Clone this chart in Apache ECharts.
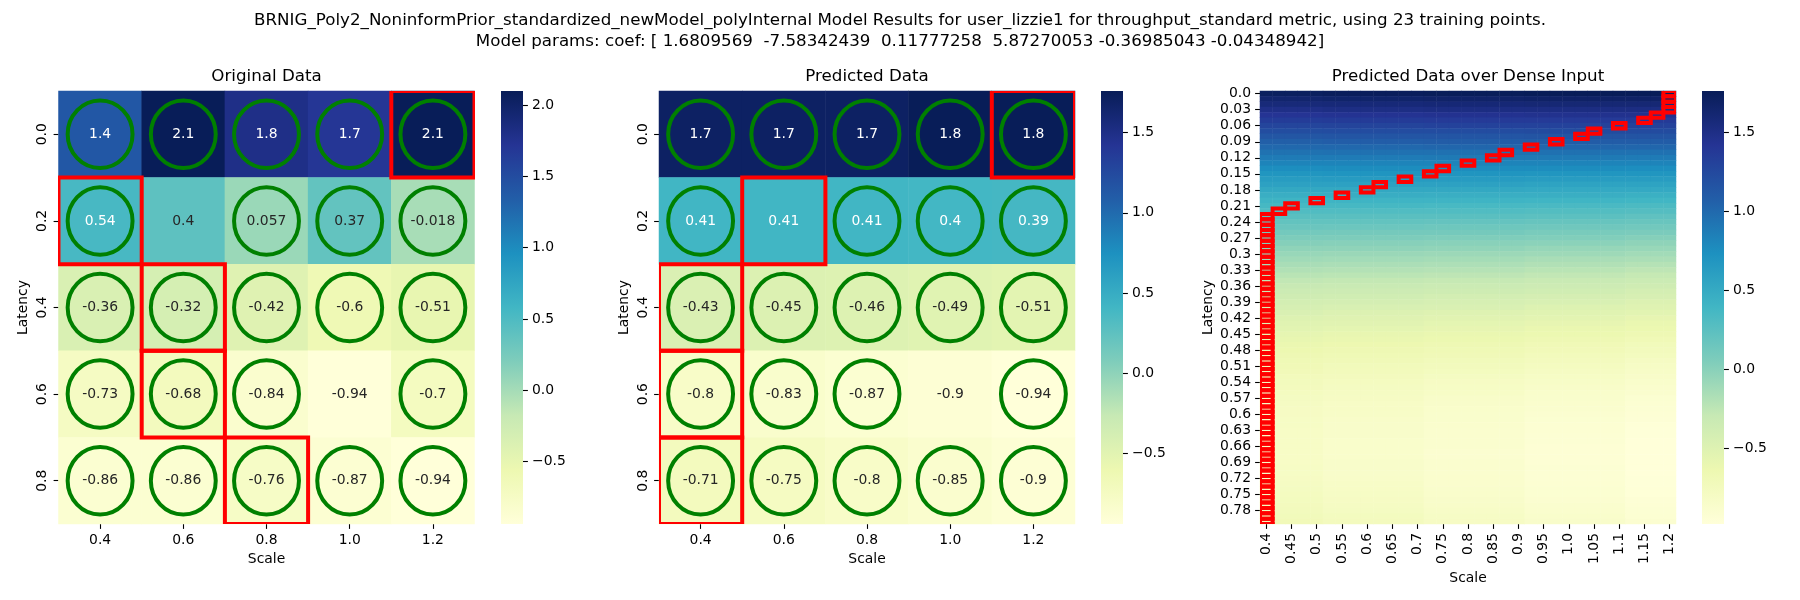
<!DOCTYPE html>
<html>
<head>
<meta charset="utf-8">
<script src="https://cdn.jsdelivr.net/npm/echarts@6/dist/echarts.min.js"></script>
<style>
html,body{margin:0;padding:0;background:#fff}
#chart{width:1800px;height:600px}
</style>
</head>
<body>
<div id="chart"></div>
<script>
// coarse grid
const scaleLabels = ['0.4','0.6','0.8','1.0','1.2'];
const latencyLabels = ['0.0','0.2','0.4','0.6','0.8'];

const originalValues = [
  [1.4, 2.1, 1.8, 1.7, 2.1],
  [0.54, 0.4, 0.057, 0.37, -0.018],
  [-0.36, -0.32, -0.42, -0.6, -0.51],
  [-0.73, -0.68, -0.84, -0.94, -0.7],
  [-0.86, -0.86, -0.76, -0.87, -0.94]
];
const predictedValues = [
  [1.7, 1.7, 1.7, 1.8, 1.8],
  [0.41, 0.41, 0.41, 0.4, 0.39],
  [-0.43, -0.45, -0.46, -0.49, -0.51],
  [-0.8, -0.83, -0.87, -0.9, -0.94],
  [-0.71, -0.75, -0.8, -0.85, -0.9]
];
// 1 = training point (green circle)
const trainMask = [
  [1,1,1,1,1],
  [1,0,1,1,1],
  [1,1,1,1,1],
  [1,1,1,0,1],
  [1,1,1,1,1]
];
// scale of the row maximum (red box), per latency row
const originalRowMax = ['1.2','0.4','0.6','0.6','0.8'];
const predictedRowMax = ['1.2','0.6','0.4','0.4','0.4'];

const originalRange = [-0.94, 2.1];
const predictedRange = [-0.94, 1.76];
const denseRange = [-0.98, 1.76];
const colorbarTicks1 = [-0.5, 0, 0.5, 1, 1.5, 2];
const colorbarTicks2 = [-0.5, 0, 0.5, 1, 1.5];

// dense grid
const denseScaleLabels = ['0.4','0.425','0.45','0.475','0.5','0.525','0.55','0.575','0.6','0.625','0.65','0.675','0.7','0.725','0.75','0.775','0.8','0.825','0.85','0.875','0.9','0.925','0.95','0.975','1.0','1.025','1.05','1.075','1.1','1.125','1.15','1.175','1.2'];
const denseLatencyLabels = ['0.0','0.01','0.02','0.03','0.04','0.05','0.06','0.07','0.08','0.09','0.1','0.11','0.12','0.13','0.14','0.15','0.16','0.17','0.18','0.19','0.2','0.21','0.22','0.23','0.24','0.25','0.26','0.27','0.28','0.29','0.3','0.31','0.32','0.33','0.34','0.35','0.36','0.37','0.38','0.39','0.4','0.41','0.42','0.43','0.44','0.45','0.46','0.47','0.48','0.49','0.5','0.51','0.52','0.53','0.54','0.55','0.56','0.57','0.58','0.59','0.6','0.61','0.62','0.63','0.64','0.65','0.66','0.67','0.68','0.69','0.7','0.71','0.72','0.73','0.74','0.75','0.76','0.77','0.78','0.79','0.8'];
// values read at these scales, one row per latency
const denseAnchorScales = [0.4, 0.6, 0.8, 1.0, 1.2];
const denseValues = [
  [1.72,1.74,1.75,1.76,1.76],[1.64,1.66,1.67,1.68,1.68],[1.57,1.58,1.59,1.60,1.60],[1.49,1.51,1.52,1.52,1.52],
  [1.42,1.43,1.44,1.45,1.45],[1.35,1.36,1.37,1.37,1.37],[1.28,1.29,1.30,1.30,1.30],[1.21,1.22,1.22,1.23,1.23],
  [1.14,1.15,1.15,1.16,1.16],[1.07,1.08,1.09,1.09,1.09],[1.01,1.01,1.02,1.02,1.02],[0.94,0.95,0.95,0.95,0.95],
  [0.88,0.88,0.89,0.89,0.88],[0.82,0.82,0.82,0.82,0.82],[0.75,0.76,0.76,0.76,0.75],[0.69,0.70,0.70,0.69,0.69],
  [0.63,0.64,0.64,0.63,0.63],[0.58,0.58,0.58,0.57,0.57],[0.52,0.52,0.52,0.51,0.51],[0.46,0.47,0.46,0.46,0.45],
  [0.41,0.41,0.41,0.40,0.39],[0.36,0.36,0.35,0.34,0.33],[0.30,0.30,0.30,0.29,0.28],[0.25,0.25,0.25,0.24,0.22],
  [0.20,0.20,0.19,0.18,0.17],[0.16,0.15,0.14,0.13,0.12],[0.11,0.10,0.10,0.08,0.07],[0.06,0.06,0.05,0.04,0.02],
  [0.02,0.01,0.00,-0.01,-0.03],[-0.03,-0.03,-0.04,-0.06,-0.07],[-0.07,-0.08,-0.09,-0.10,-0.12],[-0.11,-0.12,-0.13,-0.15,-0.16],
  [-0.15,-0.16,-0.17,-0.19,-0.21],[-0.19,-0.20,-0.21,-0.23,-0.25],[-0.23,-0.24,-0.25,-0.27,-0.29],[-0.27,-0.28,-0.29,-0.31,-0.33],
  [-0.30,-0.31,-0.33,-0.35,-0.37],[-0.34,-0.35,-0.36,-0.38,-0.41],[-0.37,-0.38,-0.40,-0.42,-0.44],[-0.40,-0.41,-0.43,-0.45,-0.48],
  [-0.43,-0.45,-0.46,-0.49,-0.51],[-0.46,-0.48,-0.50,-0.52,-0.54],[-0.49,-0.51,-0.53,-0.55,-0.58],[-0.52,-0.53,-0.56,-0.58,-0.61],
  [-0.54,-0.56,-0.58,-0.61,-0.63],[-0.57,-0.59,-0.61,-0.63,-0.66],[-0.59,-0.61,-0.63,-0.66,-0.69],[-0.62,-0.64,-0.66,-0.69,-0.72],
  [-0.64,-0.66,-0.68,-0.71,-0.74],[-0.66,-0.68,-0.70,-0.73,-0.76],[-0.68,-0.70,-0.72,-0.75,-0.79],[-0.69,-0.72,-0.74,-0.77,-0.81],
  [-0.71,-0.73,-0.76,-0.79,-0.83],[-0.73,-0.75,-0.78,-0.81,-0.84],[-0.74,-0.77,-0.80,-0.83,-0.86],[-0.75,-0.78,-0.81,-0.84,-0.88],
  [-0.77,-0.79,-0.82,-0.86,-0.89],[-0.78,-0.80,-0.84,-0.87,-0.91],[-0.79,-0.82,-0.85,-0.88,-0.92],[-0.80,-0.82,-0.86,-0.89,-0.93],
  [-0.80,-0.83,-0.87,-0.90,-0.94],[-0.81,-0.84,-0.87,-0.91,-0.95],[-0.81,-0.85,-0.88,-0.92,-0.96],[-0.82,-0.85,-0.89,-0.92,-0.97],
  [-0.82,-0.85,-0.89,-0.93,-0.97],[-0.82,-0.86,-0.89,-0.93,-0.98],[-0.82,-0.86,-0.89,-0.94,-0.98],[-0.82,-0.86,-0.90,-0.94,-0.98],
  [-0.82,-0.86,-0.90,-0.94,-0.98],[-0.82,-0.85,-0.89,-0.94,-0.98],[-0.81,-0.85,-0.89,-0.93,-0.98],[-0.81,-0.85,-0.89,-0.93,-0.98],
  [-0.80,-0.84,-0.88,-0.93,-0.97],[-0.79,-0.83,-0.88,-0.92,-0.97],[-0.78,-0.82,-0.87,-0.91,-0.96],[-0.77,-0.81,-0.86,-0.91,-0.96],
  [-0.76,-0.80,-0.85,-0.90,-0.95],[-0.75,-0.79,-0.84,-0.89,-0.94],[-0.74,-0.78,-0.83,-0.88,-0.93],[-0.72,-0.76,-0.81,-0.86,-0.92],
  [-0.71,-0.75,-0.80,-0.85,-0.90]
];
// scale of the row maximum in the dense grid, per latency row
const denseRowMax = ['1.2','1.2','1.2','1.2','1.175','1.15','1.1','1.05','1.025','0.975','0.925','0.875','0.85','0.8','0.75','0.725','0.675','0.625','0.6','0.55','0.5','0.45','0.425',
  '0.4','0.4','0.4','0.4','0.4','0.4','0.4','0.4','0.4','0.4','0.4','0.4','0.4','0.4','0.4','0.4','0.4','0.4','0.4','0.4','0.4','0.4','0.4','0.4','0.4','0.4',
  '0.4','0.4','0.4','0.4','0.4','0.4','0.4','0.4','0.4','0.4','0.4','0.4','0.4','0.4','0.4','0.4','0.4','0.4','0.4','0.4','0.4','0.4','0.4','0.4','0.4','0.4',
  '0.4','0.4','0.4','0.4','0.4','0.4','0.4'];

const titleText = 'BRNIG_Poly2_NoninformPrior_standardized_newModel_polyInternal Model Results for user_lizzie1 for throughput_standard metric, using 23 training points.\nModel params: coef: [ 1.6809569  -7.58342439  0.11777258  5.87270053 -0.36985043 -0.04348942]';

const YLGNBU = ['#ffffd9','#edf8b1','#c7e9b4','#7fcdbb','#41b6c4','#1d91c0','#225ea8','#253494','#081d58'];
const FONT = 'DejaVu Sans';
const FS = 13.9;

function hexRgb(h){ return [1,3,5].map(i=>parseInt(h.substr(i,2),16)); }
// annotation colour like seaborn: dark text on light cells
function textColor(v, range){
  let t=(v-range[0])/(range[1]-range[0]);
  t=Math.max(0,Math.min(1,t))*(YLGNBU.length-1);
  const i=Math.min(Math.floor(t),YLGNBU.length-2), f=t-i;
  const a=hexRgb(YLGNBU[i]), b=hexRgb(YLGNBU[i+1]);
  const lin=c=>{c=c/255;return c<=0.03928?c/12.92:Math.pow((c+0.055)/1.055,2.4);};
  const rgb=a.map((x,k)=>x+(b[k]-x)*f);
  const lum=0.2126*lin(rgb[0])+0.7152*lin(rgb[1])+0.0722*lin(rgb[2]);
  return lum>0.408?'#262626':'#ffffff';
}

function cellData(values, range){
  const out=[];
  values.forEach((row,i)=>row.forEach((v,j)=>{
    out.push({value:[j,i,v],label:{color:textColor(v,range)}});
  }));
  return out;
}
function circleData(mask){
  const out=[];
  mask.forEach((row,i)=>row.forEach((m,j)=>{ if(m) out.push([j,i]); }));
  return out;
}
function boxData(rowMax, labels){
  return rowMax.map((s,i)=>[labels.indexOf(s),i]);
}
function denseData(){
  const out=[];
  denseLatencyLabels.forEach((lat,i)=>{
    denseScaleLabels.forEach((sl,j)=>{
      const s=parseFloat(sl);
      let best=0;
      denseAnchorScales.forEach((a,k)=>{ if(Math.abs(s-a)<Math.abs(s-denseAnchorScales[best])-1e-9) best=k; });
      out.push([j,i,denseValues[i][best]]);
    });
  });
  return out;
}

const tickStyle={show:true,alignWithLabel:true,length:4.9,lineStyle:{color:'#000',width:1.1}};
const nameStyle={color:'#000',fontSize:FS,fontFamily:FONT};

function heatXAxis(gi, labels, extraLabel, tickInterval, gap){
  return {type:'category',gridIndex:gi,data:labels,position:'bottom',
    axisLine:{show:false},
    axisTick:Object.assign({interval:tickInterval},tickStyle),
    axisLabel:Object.assign({color:'#000',fontSize:FS,fontFamily:FONT,margin:9,interval:tickInterval},extraLabel),
    splitLine:{show:false},
    name:'Scale',nameLocation:'middle',nameGap:gap,nameTextStyle:nameStyle};
}
function heatYAxis(gi, labels, extraLabel, tickInterval, gap){
  return {type:'category',gridIndex:gi,data:labels,inverse:true,position:'left',
    axisLine:{show:false},
    axisTick:Object.assign({interval:tickInterval},tickStyle),
    axisLabel:Object.assign({color:'#000',fontSize:FS,fontFamily:FONT,margin:9,interval:tickInterval},extraLabel),
    splitLine:{show:false},
    name:'Latency',nameLocation:'middle',nameRotate:90,nameGap:gap,nameTextStyle:nameStyle};
}
function barXAxis(gi){
  return {type:'category',gridIndex:gi,data:['c'],show:false};
}
function barYAxis(gi, range, ticks){
  return {type:'value',gridIndex:gi,min:range[0],max:range[1],position:'right',
    axisLine:{show:false},splitLine:{show:false},
    axisTick:{show:true,length:4.9,customValues:ticks,lineStyle:{color:'#000',width:1.1}},
    axisLabel:{show:true,customValues:ticks,margin:9,color:'#000',fontSize:FS,fontFamily:FONT,
      formatter:v=>(v<0?'\u2212':'')+Math.abs(v).toFixed(1)}};
}

function ellipseItem(params, api){
  const c=api.coord([api.value(0),api.value(1)]);
  const s=api.size([1,1]);
  return {type:'ellipse',shape:{cx:c[0],cy:c[1],rx:s[0]*0.39,ry:s[1]*0.39},
    style:{fill:'none',stroke:'#008000',lineWidth:4}};
}
function boxItem(lw){
  return function(params, api){
    const c=api.coord([api.value(0),api.value(1)]);
    const s=api.size([1,1]);
    return {type:'rect',shape:{x:c[0]-s[0]/2,y:c[1]-s[1]/2,width:s[0],height:s[1]},
      style:{fill:'none',stroke:'#ff0000',lineWidth:lw}};
  };
}
function colorbarItem(params, api){
  const top=api.coord([0,api.value(2)]);
  const bot=api.coord([0,api.value(1)]);
  const w=api.size([1,0])[0];
  const stops=YLGNBU.map((c,i)=>({offset:i/(YLGNBU.length-1),color:c}));
  return {type:'rect',shape:{x:top[0]-w/2,y:top[1],width:w,height:bot[1]-top[1]},
    style:{fill:new echarts.graphic.LinearGradient(0,1,0,0,stops)}};
}

const panelLeft=[58.5,659,1260];
const panelW=416, panelTop=91, panelH=433;
const barLeft=[501,1101,1702], barW=22;

const chart=echarts.init(document.getElementById('chart'),null,{renderer:'canvas'});
chart.setOption({
  animation:false,
  backgroundColor:'#ffffff',
  title:[
    {text:titleText,left:900,top:10,textAlign:'center',padding:0,
      textStyle:{fontSize:16.7,fontWeight:'normal',color:'#000',fontFamily:FONT,lineHeight:21}},
    {text:'Original Data',left:panelLeft[0]+panelW/2,top:67,textAlign:'center',padding:0,
      textStyle:{fontSize:16.7,fontWeight:'normal',color:'#000',fontFamily:FONT,lineHeight:20}},
    {text:'Predicted Data',left:panelLeft[1]+panelW/2,top:67,textAlign:'center',padding:0,
      textStyle:{fontSize:16.7,fontWeight:'normal',color:'#000',fontFamily:FONT,lineHeight:20}},
    {text:'Predicted Data over Dense Input',left:panelLeft[2]+panelW/2,top:67,textAlign:'center',padding:0,
      textStyle:{fontSize:16.7,fontWeight:'normal',color:'#000',fontFamily:FONT,lineHeight:20}}
  ],
  grid:[
    {left:panelLeft[0],top:panelTop,width:panelW,height:panelH},
    {left:panelLeft[1],top:panelTop,width:panelW,height:panelH},
    {left:panelLeft[2],top:panelTop,width:panelW,height:panelH},
    {left:barLeft[0],top:panelTop,width:barW,height:panelH},
    {left:barLeft[1],top:panelTop,width:barW,height:panelH},
    {left:barLeft[2],top:panelTop,width:barW,height:panelH}
  ],
  xAxis:[
    heatXAxis(0,scaleLabels,{},0,28),
    heatXAxis(1,scaleLabels,{},0,28),
    heatXAxis(2,denseScaleLabels,{rotate:90},1,44),
    barXAxis(3),barXAxis(4),barXAxis(5)
  ],
  yAxis:[
    heatYAxis(0,latencyLabels,{rotate:90},0,28),
    heatYAxis(1,latencyLabels,{rotate:90},0,28),
    heatYAxis(2,denseLatencyLabels,{},2,45),
    barYAxis(3,originalRange,colorbarTicks1),
    barYAxis(4,predictedRange,colorbarTicks2),
    barYAxis(5,denseRange,colorbarTicks2)
  ],
  visualMap:[
    {show:false,type:'continuous',seriesIndex:0,dimension:2,min:originalRange[0],max:originalRange[1],inRange:{color:YLGNBU}},
    {show:false,type:'continuous',seriesIndex:1,dimension:2,min:predictedRange[0],max:predictedRange[1],inRange:{color:YLGNBU}},
    {show:false,type:'continuous',seriesIndex:2,dimension:2,min:denseRange[0],max:denseRange[1],inRange:{color:YLGNBU}}
  ],
  series:[
    {type:'heatmap',xAxisIndex:0,yAxisIndex:0,data:cellData(originalValues,originalRange),progressive:0,
      label:{show:true,fontSize:FS,fontFamily:FONT,formatter:p=>String(p.value[2])}},
    {type:'heatmap',xAxisIndex:1,yAxisIndex:1,data:cellData(predictedValues,predictedRange),progressive:0,
      label:{show:true,fontSize:FS,fontFamily:FONT,formatter:p=>String(p.value[2])}},
    {type:'heatmap',xAxisIndex:2,yAxisIndex:2,data:denseData(),progressive:0,label:{show:false}},
    {type:'custom',xAxisIndex:0,yAxisIndex:0,data:circleData(trainMask),renderItem:ellipseItem,clip:true,z:3},
    {type:'custom',xAxisIndex:1,yAxisIndex:1,data:circleData(trainMask),renderItem:ellipseItem,clip:true,z:3},
    {type:'custom',xAxisIndex:0,yAxisIndex:0,data:boxData(originalRowMax,scaleLabels),renderItem:boxItem(4),clip:true,z:4},
    {type:'custom',xAxisIndex:1,yAxisIndex:1,data:boxData(predictedRowMax,scaleLabels),renderItem:boxItem(4),clip:true,z:4},
    {type:'custom',xAxisIndex:2,yAxisIndex:2,data:boxData(denseRowMax,denseScaleLabels),renderItem:boxItem(4),clip:true,z:4},
    {type:'custom',xAxisIndex:3,yAxisIndex:3,data:[[0,originalRange[0],originalRange[1]]],encode:{x:0,y:[1,2]},renderItem:colorbarItem},
    {type:'custom',xAxisIndex:4,yAxisIndex:4,data:[[0,predictedRange[0],predictedRange[1]]],encode:{x:0,y:[1,2]},renderItem:colorbarItem},
    {type:'custom',xAxisIndex:5,yAxisIndex:5,data:[[0,denseRange[0],denseRange[1]]],encode:{x:0,y:[1,2]},renderItem:colorbarItem}
  ]
});
</script>
</body>
</html>
